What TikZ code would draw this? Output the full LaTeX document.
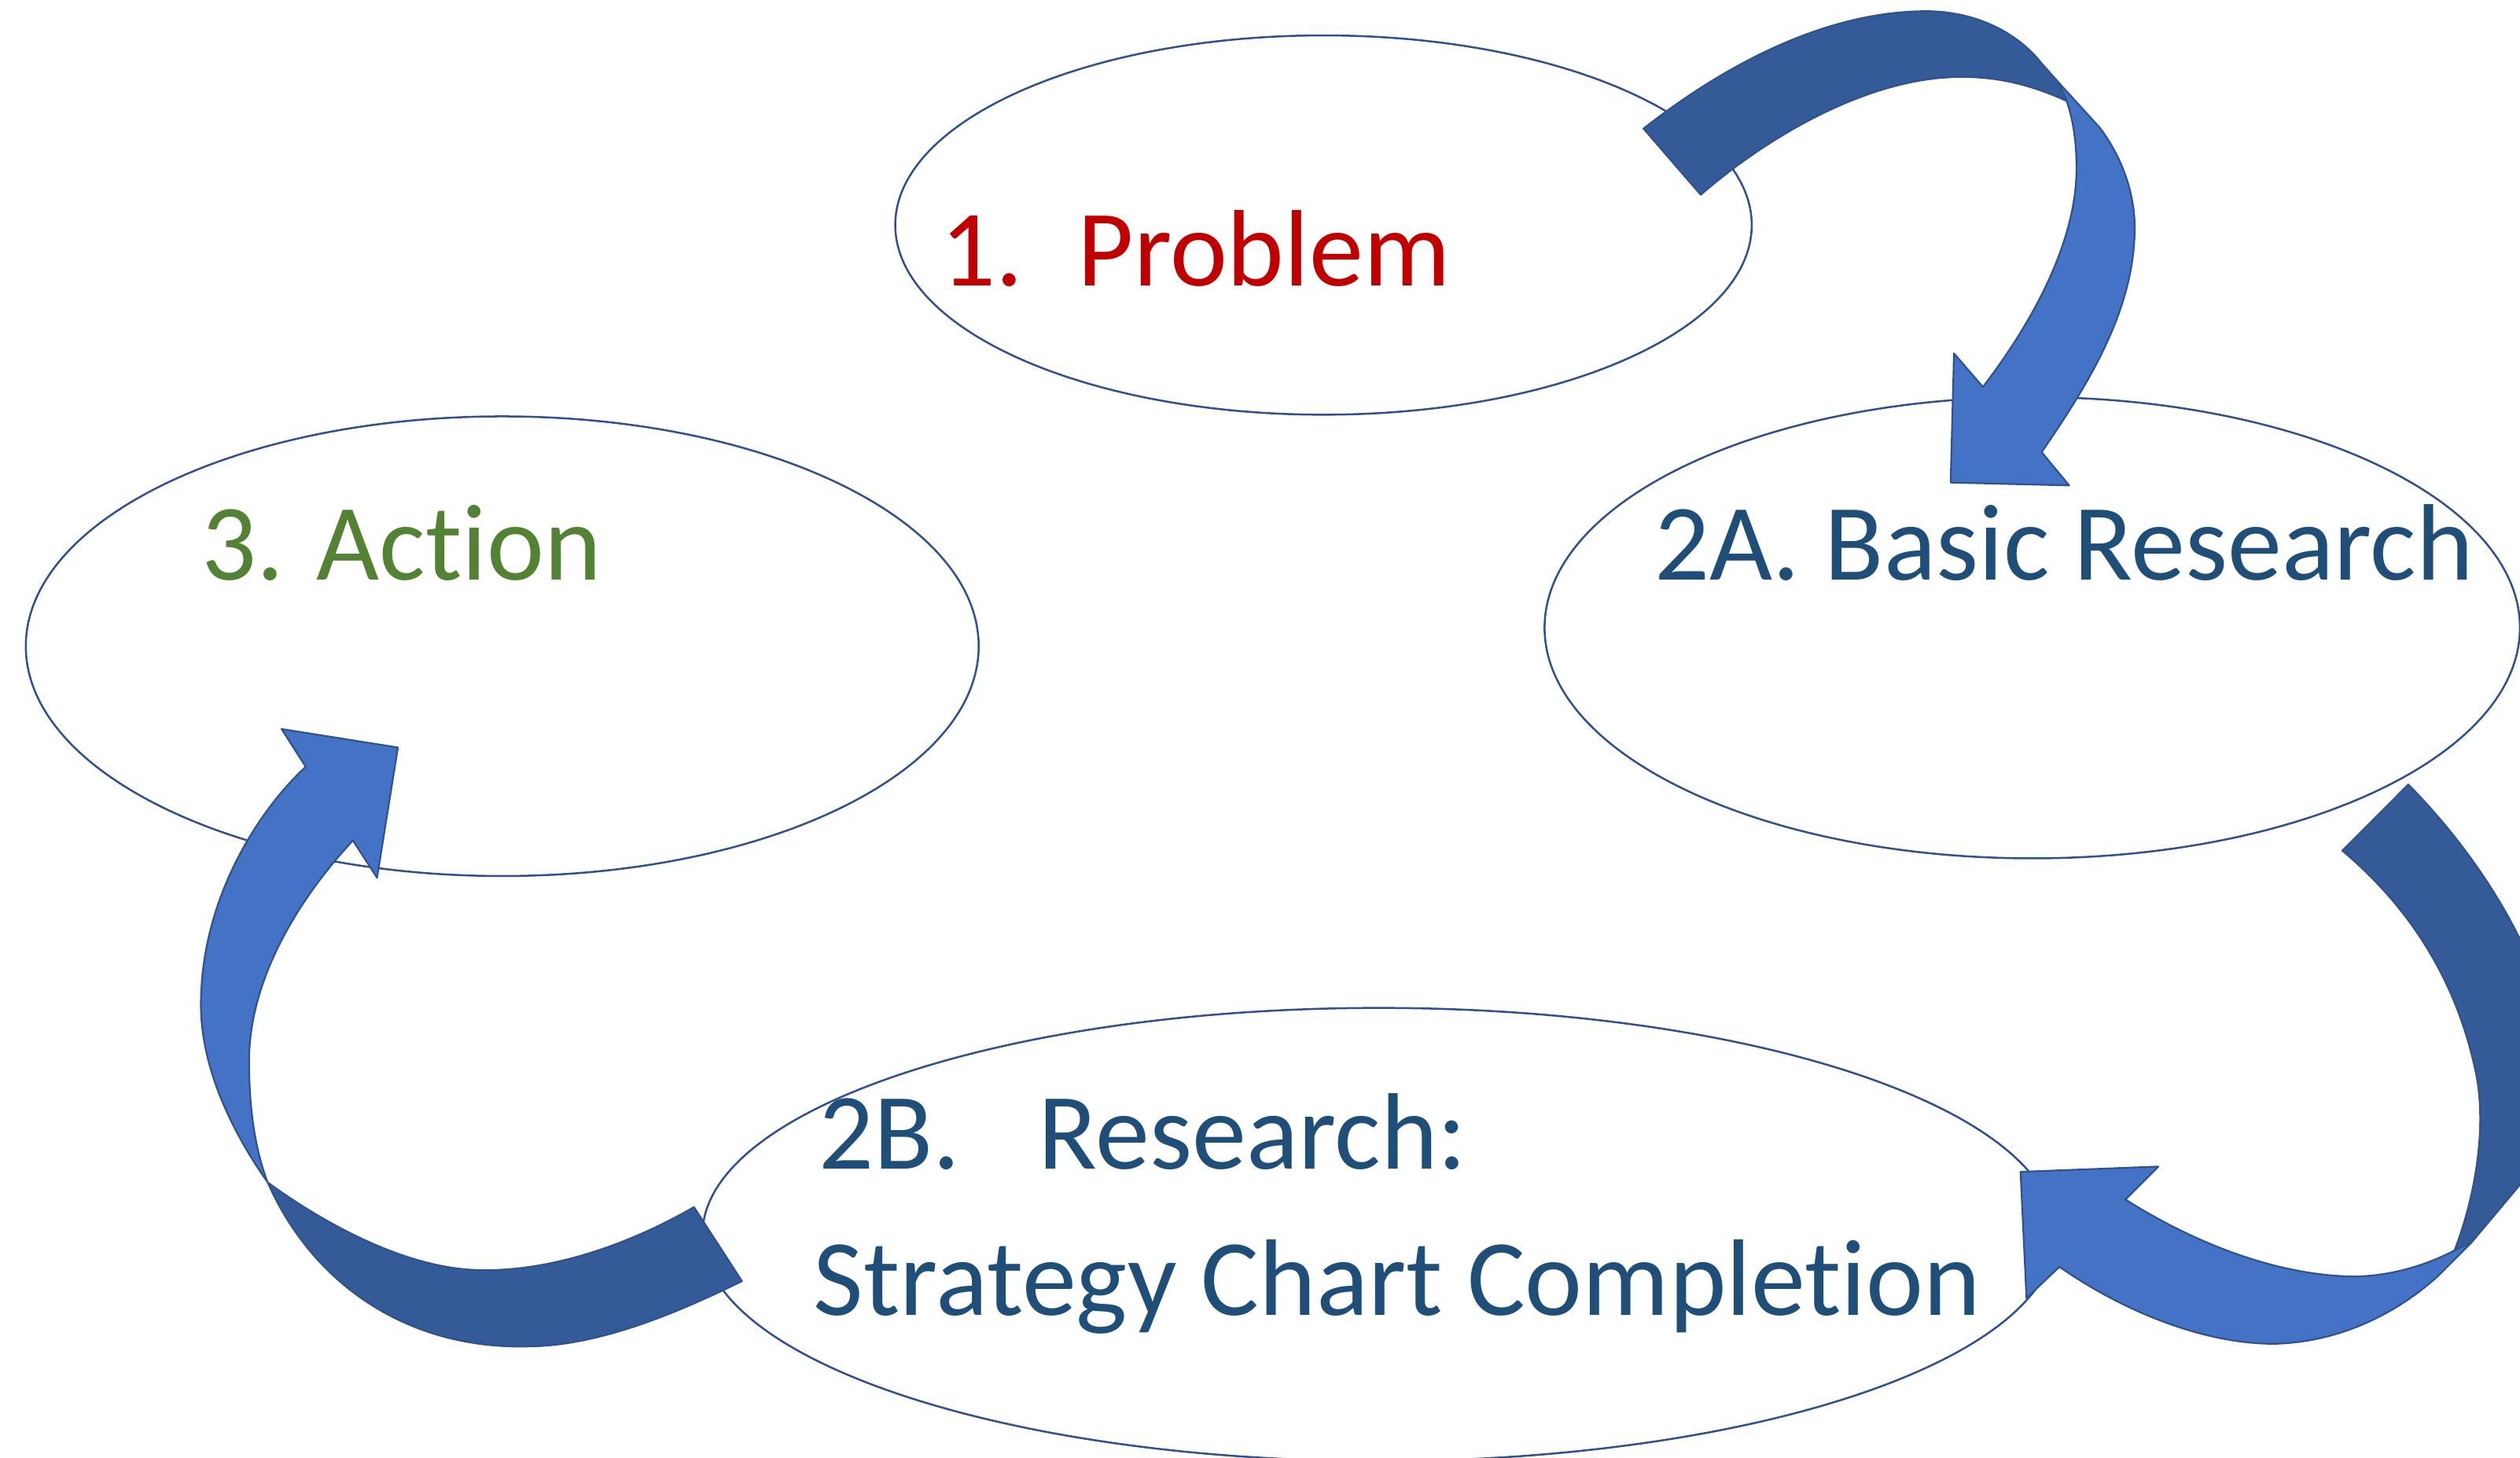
\documentclass[tikz,border=0pt]{standalone}
\usepackage{fontspec}
\setmainfont{Carlito}[Ligatures=NoCommon]
\usetikzlibrary{shapes.geometric}
\definecolor{rimblue}{HTML}{2F528F}
\definecolor{lightband}{HTML}{4472C4}
\definecolor{darkband}{HTML}{345A98}
\definecolor{probred}{HTML}{C00000}
\definecolor{actgreen}{HTML}{548235}
\definecolor{resblue}{HTML}{1F4E79}

\begin{document}
\begin{tikzpicture}[x=0.02cm,y=-0.02cm,
	bubble/.style={ellipse, draw=rimblue, line width=0.7pt, inner sep=0pt},
	stagetext/.style={anchor=base west, inner sep=0pt, font=\fontsize{38.5}{46}\selectfont},
	band/.style={draw=rimblue, line width=0.6pt, line join=round}]
	\useasboundingbox (0,0) rectangle (1568,907);
	\clip (0,0) rectangle (1568,907);
	
	\node[bubble, minimum width=10.66cm, minimum height=4.72cm] (Problem) at (823.5,140) {};% step 1
	\node[bubble, minimum width=12.14cm, minimum height=5.74cm] (Basic) at (1264.5,390.5) {};% step 2A
	\node[bubble, minimum width=16.84cm, minimum height=5.64cm] (Strategy) at (858,768) {};% step 2B
	\node[bubble, minimum width=11.86cm, minimum height=5.72cm] (Action) at (312.5,402) {};% step 3
	
	\node[stagetext, text=probred] (ProblemText) at (585,178) {1.\hspace{0.5em}Problem};
	\node[stagetext, text=resblue] (BasicText) at (1029,361) {2A. Basic Research};
	\node[stagetext, text=resblue] (ResearchText) at (509,727) {2B.\hspace{0.72em}Research:};
	\node[stagetext, text=resblue] (StrategyText) at (506,818) {Strategy Chart Completion};
	\node[stagetext, text=actgreen] (ActionText) at (125,361) {3. Action};
	
	% arrow 1 -> 2A
	\filldraw[band, fill=darkband] (1022.6,80) .. controls (1080,35) and (1140,8) .. (1195,7) .. controls (1228,6) and (1255,20) .. (1270,39) -- (1281,51.4)
		-- (1285.9,62.8) .. controls (1262,52) and (1240,47) .. (1215,48) .. controls (1160,50) and (1100,85) .. (1058.2,121.2) -- cycle;
	\filldraw[band, fill=lightband] (1281,51.4) -- (1306.5,79.4) .. controls (1322,100) and (1330,125) .. (1328,150) .. controls (1325,200) and (1295,245) .. (1270.4,281.3)
		-- (1287.5,302) -- (1213.7,300.2) -- (1215.8,219.8) -- (1233.8,240.7)
		.. controls (1265,200) and (1292,150) .. (1292,105) .. controls (1292,88) and (1290,75) .. (1285.9,62.8) -- cycle;
	
	% arrow 2A -> 2B
	\filldraw[band, fill=darkband] (1498.5,488) .. controls (1540,530) and (1580,590) .. (1590,650) .. controls (1598,700) and (1585,720) .. (1568,737) -- (1537.8,773)
		-- (1527.2,777.9) .. controls (1540,745) and (1548,700) .. (1540,665) .. controls (1528,610) and (1500,565) .. (1457.4,529.2) -- cycle;
	\filldraw[band, fill=lightband] (1537.8,773) -- (1516.6,794.2) .. controls (1490,818) and (1455,835) .. (1415,836) .. controls (1370,836) and (1320,815) .. (1281.4,788.1)
		-- (1260.9,807.6) -- (1257.2,729) -- (1343,725.7) -- (1322.5,746.2)
		.. controls (1360,770) and (1410,792) .. (1460,794) .. controls (1485,795) and (1510,787) .. (1527.2,777.9) -- cycle;
	
	% arrow 2B -> 3
	\filldraw[band, fill=lightband] (166.5,735.5) .. controls (145,705) and (125,665) .. (125,625) .. controls (125,560) and (160,505) .. (190.2,477)
		-- (175.2,453.5) -- (247.6,465) -- (234.6,546.1) -- (219.6,522.9)
		.. controls (185,560) and (155,610) .. (155,660) .. controls (155,695) and (160,718) .. (166.5,735.5) -- cycle;
	\filldraw[band, fill=darkband] (166.5,735.5) .. controls (195,800) and (255,840) .. (330,837.6) .. controls (375,837) and (425,815) .. (461.7,797)
		-- (431.8,750.9) .. controls (390,775) and (340,792) .. (295,790) .. controls (250,788) and (200,760) .. (166.5,735.5) -- cycle;
\end{tikzpicture}
\end{document}
